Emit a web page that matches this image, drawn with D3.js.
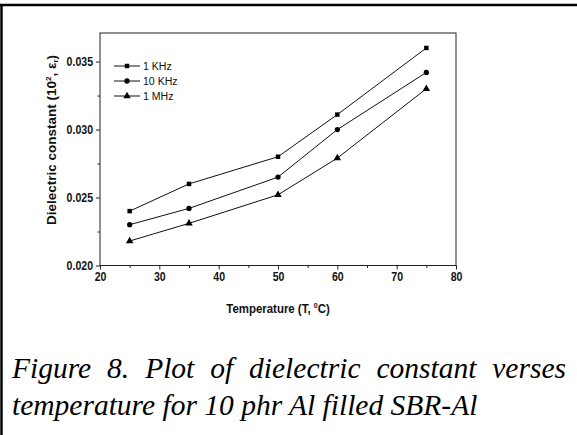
<!DOCTYPE html>
<html>
<head>
<meta charset="utf-8">
<script src="https://cdn.jsdelivr.net/npm/d3@7"></script>
<style>
  body { margin: 0; background: #fff; }
  svg { display: block; }
</style>
</head>
<body>
<div id="chart"></div>
<script>
const temperatures = [25, 35, 50, 60, 75];
const seriesNames = ["1 KHz", "10 KHz", "1 MHz"];
const kHz1 = [0.0240, 0.0260, 0.0280, 0.0311, 0.0360];
const kHz10 = [0.0230, 0.0242, 0.0265, 0.0300, 0.0342];
const mHz1 = [0.0218, 0.0231, 0.0252, 0.0279, 0.0330];
const xTicks = [20, 30, 40, 50, 60, 70, 80];
const yTicks = [0.020, 0.025, 0.030, 0.035];
const captionLines = [
  "Figure 8. Plot of dielectric constant verses",
  "temperature for 10 phr Al filled SBR-Al"
];

const width = 577, height = 435;
const plot = { left: 100, right: 456, top: 33, bottom: 265.5 };
const squeeze = 0.88; // the original uses a narrow sans

const svg = d3.select("#chart").append("svg")
  .attr("width", width)
  .attr("height", height);

// page frame (top + left rules)
svg.append("line").attr("x1", 0).attr("x2", width).attr("y1", 5).attr("y2", 5)
  .attr("stroke", "#000").attr("stroke-width", 2.5);
svg.append("line").attr("x1", 1.5).attr("x2", 1.5).attr("y1", 4).attr("y2", height)
  .attr("stroke", "#000").attr("stroke-width", 2.5);

const x = d3.scaleLinear().domain([20, 80]).range([plot.left, plot.right]);
const y = d3.scaleLinear().domain([0.020, 0.0371]).range([plot.bottom, plot.top]);

// plot box
svg.append("rect")
  .attr("x", plot.left).attr("y", plot.top)
  .attr("width", plot.right - plot.left).attr("height", plot.bottom - plot.top)
  .attr("fill", "none").attr("stroke", "#222").attr("stroke-width", 1);

const sans = "'Liberation Sans', Arial, sans-serif";

// x axis
const xAxis = svg.append("g").attr("transform", `translate(0,${plot.bottom})`)
  .call(d3.axisBottom(x).tickValues(xTicks).tickFormat(d3.format("d")).tickSize(4).tickPadding(3));
xAxis.select(".domain").remove();
xAxis.selectAll(".tick text").attr("transform", `scale(${squeeze},1)`);
svg.append("g").attr("transform", `translate(0,${plot.bottom})`)
  .call(d3.axisBottom(x).tickValues(d3.range(25, 80, 10)).tickFormat("").tickSize(2.5))
  .select(".domain").remove();

// y axis
const yAxis = svg.append("g").attr("transform", `translate(${plot.left},0)`)
  .call(d3.axisLeft(y).tickValues(yTicks).tickFormat(d3.format(".3f")).tickSize(4).tickPadding(3));
yAxis.select(".domain").remove();
yAxis.selectAll(".tick text").attr("x", -7 / squeeze).attr("transform", `scale(${squeeze},1)`);
svg.append("g").attr("transform", `translate(${plot.left},0)`)
  .call(d3.axisLeft(y).tickValues([0.0225, 0.0275, 0.0325]).tickFormat("").tickSize(2.5))
  .select(".domain").remove();

svg.selectAll(".tick line").attr("stroke", "#222");
svg.selectAll(".tick text")
  .attr("font-family", sans).attr("font-weight", "bold")
  .attr("font-size", 12).attr("fill", "#111");

// axis titles
svg.append("text")
  .attr("transform", `translate(${(plot.left + plot.right) / 2},313) scale(${squeeze},1)`)
  .attr("text-anchor", "middle")
  .attr("font-family", sans).attr("font-weight", "bold").attr("font-size", 13)
  .attr("fill", "#111")
  .html('Temperature (T, <tspan dy="-5" font-size="8">0</tspan><tspan dy="5">C)</tspan>');

svg.append("text")
  .attr("transform", `translate(56,140) rotate(-90)`)
  .attr("text-anchor", "middle")
  .attr("font-family", sans).attr("font-weight", "bold").attr("font-size", 13.5)
  .attr("fill", "#111")
  .html('Dielectric constant (10<tspan dy="-5" font-size="8">2</tspan><tspan dy="5">, ε</tspan><tspan dy="2" font-size="8">r</tspan><tspan dy="-2">)</tspan>');

// series
const series = [
  { name: seriesNames[0], values: kHz1, symbol: d3.symbolSquare, size: 20 },
  { name: seriesNames[1], values: kHz10, symbol: d3.symbolCircle, size: 22 },
  { name: seriesNames[2], values: mHz1, symbol: d3.symbolTriangle, size: 24 }
];

const line = d3.line().x((d, i) => x(temperatures[i])).y(d => y(d));

series.forEach(s => {
  svg.append("path").datum(s.values)
    .attr("d", line).attr("fill", "none").attr("stroke", "#111").attr("stroke-width", 1);
  svg.selectAll(null).data(s.values).enter().append("path")
    .attr("transform", (d, i) => `translate(${x(temperatures[i])},${y(d)})`)
    .attr("d", d3.symbol().type(s.symbol).size(s.size))
    .attr("fill", "#000");
});

// legend
const legend = svg.append("g").attr("transform", "translate(114,66)");
series.forEach((s, i) => {
  const g = legend.append("g").attr("transform", `translate(0,${i * 15})`);
  g.append("line").attr("x1", 0).attr("x2", 26).attr("stroke", "#111").attr("stroke-width", 1);
  g.append("path").attr("transform", "translate(13,0)")
    .attr("d", d3.symbol().type(s.symbol).size(s.size)).attr("fill", "#000");
  g.append("text").attr("transform", `translate(29,4.2) scale(0.92,1)`)
    .attr("font-family", sans).attr("font-size", 11.5).attr("fill", "#111")
    .text(s.name);
});

// caption, first line justified
const capX0 = 12, capX1 = 566;
const capBase = [378, 415];
captionLines.forEach((t, i) => {
  const el = svg.append("text")
    .attr("x", capX0).attr("y", capBase[i])
    .attr("font-family", "'Liberation Serif', 'Times New Roman', serif")
    .attr("font-style", "italic").attr("font-size", 29.5).attr("fill", "#000")
    .text(t);
  if (i === 0) {
    const natural = el.node().getComputedTextLength();
    const spaces = t.split(" ").length - 1;
    el.attr("word-spacing", Math.max(0, (capX1 - capX0 - natural) / spaces));
  }
});
</script>
</body>
</html>
